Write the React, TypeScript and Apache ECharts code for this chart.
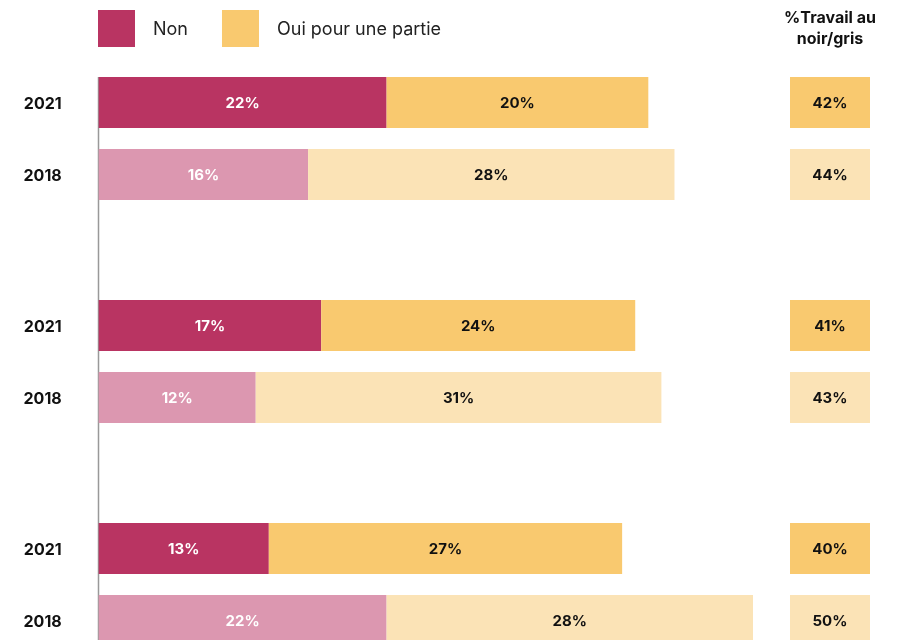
import React, { useEffect, useRef } from "react";
import * as echarts from "echarts";

const years = ["2021", "2018"];
const nonValues = [
  [22, 16],
  [17, 12],
  [13, 22],
];
const ouiValues = [
  [20, 28],
  [24, 31],
  [27, 28],
];
const totals = [
  [42, 44],
  [41, 43],
  [40, 50],
];
const nonColors = ["#B93462", "#DC97B0"];
const ouiColors = ["#F9C96F", "#FBE3B6"];
const legendNames = ["Non", "Oui pour une partie"];
const totalHeader = "%Travail au\nnoir/gris";

const FONT = "Inter";

export default function App() {
  const ref = useRef<HTMLDivElement>(null);
  useEffect(() => {
    if (!ref.current) return;
    const chart = echarts.init(ref.current, null, { renderer: "svg" });
    const tops = [66.5, 289.5, 512.5];
    const grids: any[] = [];
    const xAxes: any[] = [];
    const yAxes: any[] = [];
    const series: any[] = [];
    tops.forEach((top, g) => {
      grids.push({ left: 98.7, width: 654.3, top, height: 144 });
      xAxes.push({
        type: "value",
        gridIndex: g,
        min: 0,
        max: 50,
        show: false,
      });
      yAxes.push({
        type: "category",
        gridIndex: g,
        data: years,
        inverse: true,
        axisLine: { show: false },
        axisTick: { show: false },
        axisLabel: {
          margin: 37,
          fontFamily: FONT,
          fontWeight: "bold",
          fontSize: 16,
          color: "#111",
        },
      });
      series.push({
        type: "bar",
        name: legendNames[0],
        stack: "s" + g,
        xAxisIndex: g,
        yAxisIndex: g,
        barWidth: 51,
        itemStyle: { color: nonColors[0] },
        label: {
          show: true,
          position: "inside",
          color: "#fff",
          fontFamily: FONT,
          fontWeight: "bold",
          fontSize: 15,
          formatter: (p: any) => p.value + "%",
        },
        data: nonValues[g].map((v, i) => ({
          value: v,
          itemStyle: { color: nonColors[i] },
        })),
      });
      series.push({
        type: "bar",
        name: legendNames[1],
        stack: "s" + g,
        xAxisIndex: g,
        yAxisIndex: g,
        barWidth: 51,
        itemStyle: { color: ouiColors[0] },
        label: {
          show: true,
          position: "inside",
          color: "#111",
          fontFamily: FONT,
          fontWeight: "bold",
          fontSize: 15,
          formatter: (p: any) => p.value + "%",
        },
        data: ouiValues[g].map((v, i) => ({
          value: v,
          itemStyle: { color: ouiColors[i] },
        })),
      });
    });
    tops.forEach((top, g) => {
      const gi = 3 + g;
      grids.push({ left: 790, width: 80, top, height: 144 });
      xAxes.push({ type: "category", gridIndex: gi, data: ["total"], show: false });
      yAxes.push({ type: "category", gridIndex: gi, data: years, inverse: true, show: false });
      series.push({
        type: "scatter",
        name: "total",
        xAxisIndex: gi,
        yAxisIndex: gi,
        symbol: "rect",
        symbolSize: [80, 51],
        label: {
          show: true,
          position: "inside",
          color: "#111",
          fontFamily: FONT,
          fontWeight: "bold",
          fontSize: 15,
          formatter: (p: any) => p.value[2] + "%",
        },
        data: totals[g].map((t, i) => ({
          value: [0, i, t],
          itemStyle: { color: ouiColors[i], opacity: 1 },
        })),
      });
    });

    chart.setOption({
      animation: false,
      title: {
        text: totalHeader,
        left: 830,
        top: 6,
        padding: 0,
        textAlign: "center",
        textStyle: {
          fontFamily: FONT,
          fontWeight: "bold",
          fontSize: 16,
          lineHeight: 21,
          color: "#111",
        },
      },
      legend: {
        data: legendNames,
        left: 98,
        top: 10,
        padding: 0,
        icon: "rect",
        itemWidth: 37,
        itemHeight: 37,
        itemGap: 34,
        selectedMode: false,
        textStyle: {
          fontFamily: FONT,
          fontSize: 18,
          color: "#222",
          padding: [0, 0, 0, 13],
        },
      },
      grid: grids,
      xAxis: xAxes,
      yAxis: yAxes,
      series,
      graphic: [
        {
          type: "line",
          shape: { x1: 98.5, y1: 77, x2: 98.5, y2: 700 },
          style: { stroke: "#999", lineWidth: 1.5 },
        },
      ],
    });
    return () => chart.dispose();
  }, []);
  return (
    <div
      ref={ref}
      style={{ position: "fixed", left: 0, top: 0, width: 908, height: 700 }}
    />
  );
}
